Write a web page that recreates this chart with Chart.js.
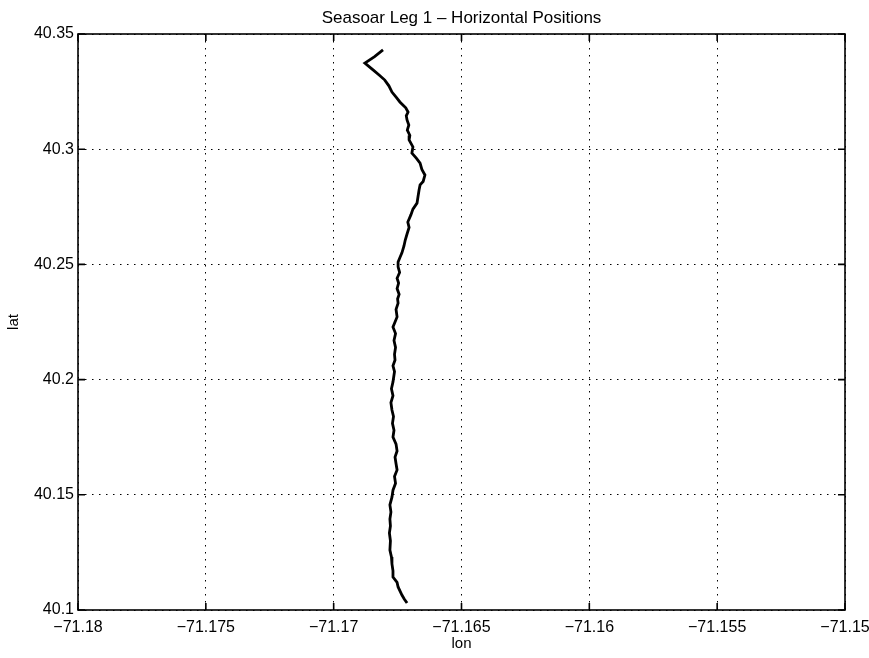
<!DOCTYPE html>
<html>
<head>
<meta charset="utf-8">
<title>Seasoar Leg 1 - Horizontal Positions</title>
<script src="https://cdn.jsdelivr.net/npm/chart.js@4.4.1/dist/chart.umd.min.js"></script>
<style>
  html, body { margin: 0; padding: 0; background: #fff; }
  #wrap { width: 869px; height: 658px; position: relative; }
</style>
</head>
<body>
<div id="wrap"><canvas id="track"></canvas></div>
<script>
// ---- data ----
const lon = [
  -71.16807, -71.16840, -71.16878, -71.16846, -71.16820, -71.16800, -71.16784, -71.16772,
  -71.16755, -71.16741, -71.16718, -71.16709, -71.16716, -71.16713, -71.16706, -71.16712,
  -71.16702, -71.16705, -71.16690, -71.16694, -71.16676, -71.16662, -71.16655, -71.16643,
  -71.16650, -71.16662, -71.16666, -71.16670, -71.16674, -71.16690, -71.16698, -71.16710,
  -71.16705, -71.16713, -71.16720, -71.16725, -71.16733, -71.16740, -71.16748, -71.16748,
  -71.16742, -71.16752, -71.16746, -71.16752, -71.16744, -71.16750, -71.16748, -71.16756,
  -71.16752, -71.16760, -71.16768, -71.16758, -71.16764, -71.16758, -71.16762, -71.16760,
  -71.16768, -71.16762, -71.16768, -71.16774, -71.16768, -71.16776, -71.16772, -71.16766,
  -71.16770, -71.16764, -71.16768, -71.16756, -71.16752, -71.16760, -71.16756, -71.16752,
  -71.16762, -71.16758, -71.16768, -71.16772, -71.16780, -71.16776, -71.16780, -71.16778,
  -71.16782, -71.16778, -71.16780, -71.16774, -71.16772, -71.16768, -71.16768, -71.16752,
  -71.16748, -71.16733, -71.16724, -71.16713
];
const lat = [
  40.3431, 40.3402, 40.3374, 40.3344, 40.3320, 40.3300, 40.3275, 40.3248,
  40.3225, 40.3205, 40.3180, 40.3161, 40.3145, 40.3127, 40.3105, 40.3083,
  40.3060, 40.3040, 40.3010, 40.2983, 40.2960, 40.2940, 40.2912, 40.2888,
  40.2860, 40.2845, 40.2823, 40.2795, 40.2766, 40.2740, 40.2715, 40.2684,
  40.2660, 40.2632, 40.2606, 40.2580, 40.2550, 40.2532, 40.2510, 40.2489,
  40.2465, 40.2440, 40.2419, 40.2395, 40.2370, 40.2350, 40.2332, 40.2305,
  40.2272, 40.2250, 40.2228, 40.2200, 40.2170, 40.2140, 40.2110, 40.2085,
  40.2060, 40.2035, 40.1990, 40.1960, 40.1930, 40.1900, 40.1868, 40.1840,
  40.1810, 40.1780, 40.1751, 40.1720, 40.1690, 40.1664, 40.1635, 40.1608,
  40.1580, 40.1550, 40.1520, 40.1490, 40.1456, 40.1425, 40.1395, 40.1365,
  40.1334, 40.1300, 40.1260, 40.1230, 40.1200, 40.1170, 40.1143, 40.1120,
  40.1100, 40.1065, 40.1048, 40.1030
];

const xTicks = [-71.18, -71.175, -71.17, -71.165, -71.16, -71.155, -71.15];
const xTickLabels = ['\u221271.18', '\u221271.175', '\u221271.17', '\u221271.165', '\u221271.16', '\u221271.155', '\u221271.15'];
const yTicks = [40.1, 40.15, 40.2, 40.25, 40.3, 40.35];
const yTickLabels = ['40.1', '40.15', '40.2', '40.25', '40.3', '40.35'];
const TITLE = 'Seasoar Leg 1 \u2013 Horizontal Positions';

// ---- layout (matches the reference frame) ----
const FONT = 'Liberation Sans, Arial, Helvetica, sans-serif';
const AREA = { left: 78, right: 845, top: 34, bottom: 610 };

// matlab-style box with inward tick marks, title centred over the axes
const frame = {
  id: 'frame',
  afterDraw(chart) {
    const { ctx, chartArea: a, scales } = chart;
    ctx.save();
    ctx.strokeStyle = '#000';
    ctx.lineWidth = 1.6;
    ctx.strokeRect(a.left, a.top, a.right - a.left, a.bottom - a.top);
    ctx.beginPath();
    xTicks.forEach((v) => {
      const px = scales.x.getPixelForValue(v);
      ctx.moveTo(px, a.bottom); ctx.lineTo(px, a.bottom - 7);
      ctx.moveTo(px, a.top); ctx.lineTo(px, a.top + 7);
    });
    yTicks.forEach((v) => {
      const py = scales.y.getPixelForValue(v);
      ctx.moveTo(a.left, py); ctx.lineTo(a.left + 7, py);
      ctx.moveTo(a.right, py); ctx.lineTo(a.right - 7, py);
    });
    ctx.stroke();

    ctx.fillStyle = '#000';
    ctx.font = '17px ' + FONT;
    ctx.textAlign = 'center';
    ctx.textBaseline = 'middle';
    ctx.fillText(TITLE, (a.left + a.right) / 2, 18);
    ctx.restore();
  },
};

const dotted = {
  color: '#000',
  lineWidth: 1,
  drawTicks: false,
};

new Chart(document.getElementById('track'), {
  type: 'scatter',
  data: {
    datasets: [{
      data: lon.map((x, i) => ({ x, y: lat[i] })),
      showLine: true,
      borderColor: '#000',
      borderWidth: 2.8,
      pointRadius: 0,
      tension: 0,
      fill: false,
    }],
  },
  options: {
    responsive: true,
    maintainAspectRatio: false,
    animation: false,
    layout: { padding: { left: 0, right: 869 - AREA.right, top: AREA.top, bottom: 0 } },
    plugins: {
      legend: { display: false },
      tooltip: { enabled: false },
      title: { display: false },
    },
    scales: {
      x: {
        type: 'linear',
        min: -71.18,
        max: -71.15,
        afterBuildTicks: (s) => { s.ticks = xTicks.map((value) => ({ value })); },
        afterFit: (s) => { s.height = 658 - AREA.bottom; s.paddingLeft = 0; s.paddingRight = 0; },
        grid: dotted,
        border: { display: false, dash: [1.5, 5.5] },
        ticks: {
          padding: 8,
          color: '#000',
          maxRotation: 0,
          font: { family: FONT, size: 16 },
          callback: (v) => xTickLabels[xTicks.findIndex((t) => Math.abs(t - v) < 1e-6)],
        },
        title: {
          display: true,
          text: 'lon',
          color: '#000',
          font: { family: FONT, size: 15, lineHeight: 1.2 },
          padding: { top: 0, bottom: 5 },
        },
      },
      y: {
        type: 'linear',
        min: 40.1,
        max: 40.35,
        afterBuildTicks: (s) => { s.ticks = yTicks.map((value) => ({ value })); },
        afterFit: (s) => { s.width = AREA.left; s.paddingTop = 0; s.paddingBottom = 0; },
        grid: dotted,
        border: { display: false, dash: [1.5, 5.5] },
        ticks: {
          padding: 4,
          color: '#000',
          font: { family: FONT, size: 16 },
          callback: (v) => yTickLabels[yTicks.findIndex((t) => Math.abs(t - v) < 1e-6)],
        },
        title: {
          display: true,
          text: 'lat',
          color: '#000',
          font: { family: FONT, size: 15, lineHeight: 1.2 },
          padding: { top: 5, bottom: 0 },
        },
      },
    },
  },
  plugins: [frame],
});
</script>
</body>
</html>
